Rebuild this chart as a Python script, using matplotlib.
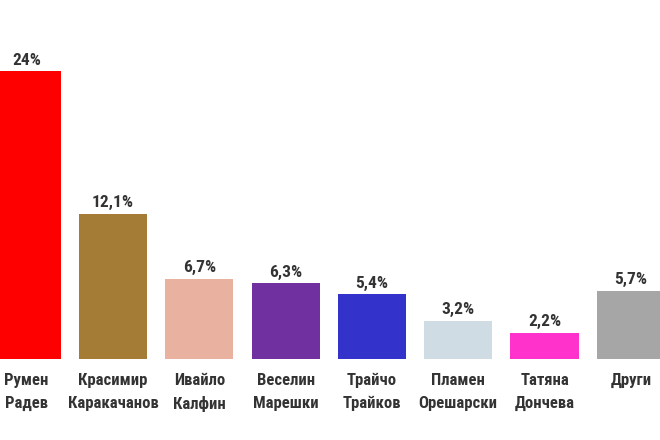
import matplotlib.pyplot as plt
import numpy as np

names = ["Румен\nРадев", "Красимир\nКаракачанов", "Ивайло\nКалфин", "Веселин\nМарешки",
         "Трайчо\nТрайков", "Пламен\nОрешарски", "Татяна\nДончева", "Други"]
values = [24, 12.1, 6.7, 6.3, 5.4, 3.2, 2.2, 5.7]
value_labels = ["24%", "12,1%", "6,7%", "6,3%", "5,4%", "3,2%", "2,2%", "5,7%"]
colors = ["#FF0000", "#A57C35", "#E9B1A0", "#7030A0", "#3333CC", "#D0DCE3", "#FF33CC", "#A6A6A6"]

plt.rcParams["font.family"] = ["Roboto Condensed", "Roboto", "DejaVu Sans"]
TXT = "#333333"

fig = plt.figure(figsize=(6.6, 4.4), dpi=100)
ax = fig.add_axes([0, 0, 1, 1])
x = np.arange(len(values))
ax.bar(x, values, width=0.79, color=colors)

for i, (v, lab) in enumerate(zip(values, value_labels)):
    ax.annotate(lab, (i, v), xytext=(0, 2.5), textcoords="offset points",
                ha="center", va="bottom", fontsize=12.5, fontweight="bold", color=TXT)
    ax.annotate(names[i], (i, 0), xytext=(0, -10), textcoords="offset points",
                ha="center", va="top", fontsize=12, fontweight="bold", color=TXT,
                linespacing=1.65)

ax.set_xlim(-0.309, 7.338)
ax.set_ylim(-6.75, 29.92)
ax.axis("off")
fig.savefig("out.png", dpi=100)
